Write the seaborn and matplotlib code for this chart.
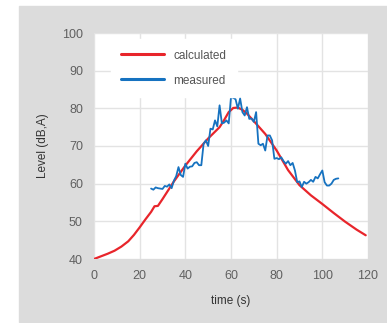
import numpy as np
import pandas as pd
import seaborn as sns
import matplotlib
matplotlib.use("Agg")
import matplotlib.pyplot as plt
from matplotlib.patches import Rectangle

# calculated level (red)
calc_t = [0, 3, 6, 9, 12, 15, 17.5, 20, 22.5, 25, 26.5, 28, 30, 35, 40, 45, 50, 55,
          57, 59, 61, 63, 65, 67, 70, 75, 80, 85, 90, 95, 100, 105, 110, 115, 119]
calc_db = [40, 40.7, 41.4, 42.2, 43.3, 44.7, 46.4, 48.4, 50.5, 52.5, 54.0, 54.1, 55.9,
           60.6, 64.8, 68.6, 72.0, 75.0, 76.9, 79.0, 80.1, 80.2, 79.6, 78.6, 76.6,
           73.2, 68.8, 63.6, 59.6, 56.9, 54.6, 52.2, 49.9, 47.8, 46.3]

# measured level (blue)
meas_t = list(range(25, 108))
meas_db = [58.7, 58.4, 59.0, 58.8, 58.7, 58.6, 59.4, 59.2, 59.8, 58.8, 60.8, 62.0, 64.4,
           62.3, 61.8, 65.3, 64.0, 64.5, 64.6, 65.5, 65.7, 64.9, 64.9, 70.6, 71.5,
           70.0, 74.6, 74.4, 76.8, 75.2, 80.8, 76.0, 76.2, 76.8, 76.0, 83.0, 82.8,
           82.4, 79.9, 82.6, 79.0, 78.1, 80.3, 77.2, 77.3, 76.4, 79.0, 70.6, 70.2,
           70.6, 68.8, 72.8, 72.8, 71.5, 66.6, 66.8, 66.5, 67.0, 66.0, 65.3, 66.0,
           64.9, 65.5, 63.5, 60.4, 60.6, 59.1, 60.5, 60.0, 60.4, 61.0, 60.5, 61.8,
           61.4, 62.5, 63.5, 60.4, 59.5, 59.5, 60.0, 61.0, 61.3, 61.4]

calc = pd.DataFrame({"time": calc_t, "level": calc_db})
meas = pd.DataFrame({"time": meas_t, "level": meas_db})

sns.set_theme(style="white")
plt.rcParams["font.family"] = ["Liberation Sans", "DejaVu Sans"]

fig = plt.figure(figsize=(3.87, 3.23), dpi=100)
fig.patches.append(Rectangle((19 / 387, 1 / 323), 368 / 387, 316 / 323,
                             transform=fig.transFigure, color="#dcdcdc", zorder=-5))
ax = fig.add_axes([94 / 387, 64 / 323, 274 / 387, 226 / 323])
ax.set_zorder(2)
ax.set_facecolor("white")

sns.lineplot(data=calc, x="time", y="level", ax=ax, color="#e8252b", lw=1.6,
             label="calculated")
sns.lineplot(data=meas, x="time", y="level", ax=ax, color="#1672c0", lw=1.3,
             label="measured")

ax.set_xlim(0, 120)
ax.set_ylim(40, 100)
ax.set_xticks(range(0, 121, 20))
ax.set_yticks(range(40, 101, 10))
ax.grid(True, color="#e3e3e3", lw=1)
for s in ax.spines.values():
    s.set_visible(False)
ax.tick_params(length=0, labelsize=9, colors="#606060", pad=8)
ax.set_xlabel("time (s)", fontsize=8.5, color="#333333", labelpad=9)
ax.set_ylabel("Level (dB,A)", fontsize=8.5, color="#333333", labelpad=9)

leg = ax.legend(loc="upper left", bbox_to_anchor=(0.04, 1.0), frameon=True,
                fontsize=8.5, handlelength=3.6, handletextpad=0.8,
                labelspacing=1.1, borderpad=0.9)
leg.get_frame().set_edgecolor("white")
leg.get_frame().set_facecolor("white")
leg.get_frame().set_alpha(1)
for t in leg.get_texts():
    t.set_color("#555555")
for h in leg.get_lines():
    h.set_linewidth(2.2)

fig.savefig("out.png", dpi=100)
